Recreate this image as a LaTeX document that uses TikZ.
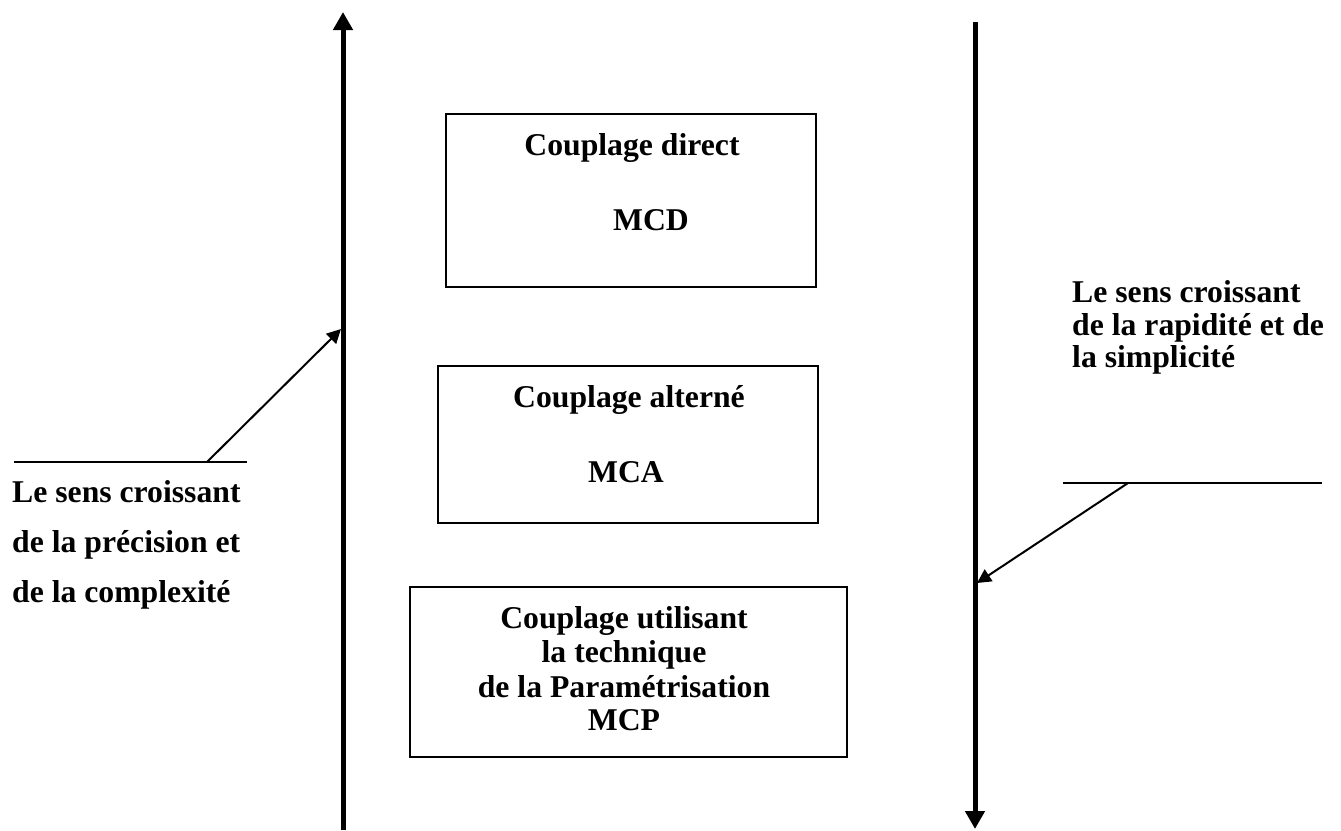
\documentclass[tikz,border=0pt]{standalone}
\usepackage{fontspec}
\setmainfont{Liberation Serif}
\usetikzlibrary{arrows.meta}
\begin{document}
\begin{tikzpicture}[x=1pt,y=-1pt,
  txt/.style={font=\fontsize{31.7}{34}\selectfont\bfseries, inner sep=0pt},
  boxe/.style={draw, line width=1.6pt, rectangle},
  axis/.style={line width=5pt, -{Triangle[length=18pt,width=19pt]}},
  pointer/.style={line width=2pt, -{Triangle[length=14pt,width=14pt]}},
  rule/.style={line width=2pt}]
\useasboundingbox (0,0) rectangle (1341,830);
% boxes
\draw[boxe] (446,114) coordinate (b1nw) rectangle (816,287) coordinate (b1se);
\draw[boxe] (438,366) coordinate (b2nw) rectangle (818,523) coordinate (b2se);
\draw[boxe] (410,587) coordinate (b3nw) rectangle (847,757) coordinate (b3se);
% box texts
\node[txt, anchor=base] (t1a) at (632,155) {Couplage direct};
\node[txt, anchor=base] (t1b) at (651,230) {MCD};
\node[txt, anchor=base] (t2a) at (629,407) {Couplage alterné};
\node[txt, anchor=base] (t2b) at (626,482) {MCA};
\node[txt, anchor=base] (t3a) at (624,628) {Couplage utilisant};
\node[txt, anchor=base] (t3b) at (624,662) {la technique};
\node[txt, anchor=base] (t3c) at (624,697) {de la Paramétrisation};
\node[txt, anchor=base] (t3d) at (624,730) {MCP};
% axes
\coordinate (la0) at (343,830);
\coordinate (la1) at (343,12);
\draw[axis] (la0) -- (la1);
\coordinate (ra0) at (975,22);
\coordinate (ra1) at (975,829);
\draw[axis] (ra0) -- (ra1);
% left pointer
\coordinate (l0) at (14,462);
\coordinate (l1) at (247,462);
\coordinate (lp) at (207,462);
\coordinate (lt) at (341,329);
\draw[rule] (l0) -- (l1);
\draw[pointer] (lp) -- (lt);
% right pointer
\coordinate (r0) at (1063,483);
\coordinate (r1) at (1322,483);
\coordinate (rp) at (1128,483);
\coordinate (rt) at (977,583);
\draw[rule] (r0) -- (r1);
\draw[pointer] (rp) -- (rt);
% labels
\node[txt, anchor=base west] (ll1) at (12,502) {Le sens croissant};
\node[txt, anchor=base west] (ll2) at (12,552) {de la précision et};
\node[txt, anchor=base west] (ll3) at (12,602) {de la complexité};
\node[txt, anchor=base west] (rl1) at (1072,302) {Le sens croissant};
\node[txt, anchor=base west] (rl2) at (1072,335) {de la rapidité et de};
\node[txt, anchor=base west] (rl3) at (1072,367) {la simplicité};
\end{tikzpicture}
\end{document}
